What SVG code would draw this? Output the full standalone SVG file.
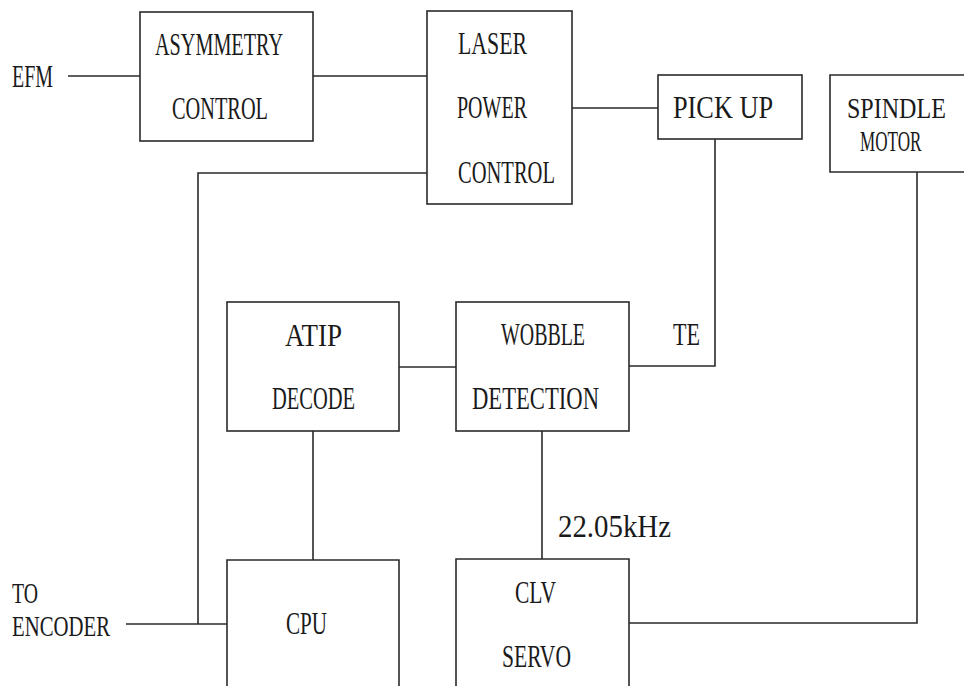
<svg xmlns="http://www.w3.org/2000/svg" width="964" height="686" viewBox="0 0 964 686">
<style>
.b{fill:#fff;stroke:#2a2a2a;stroke-width:1.6}
.c{fill:none;stroke:#2a2a2a;stroke-width:1.6}
text{font-family:"Liberation Serif","DejaVu Serif",serif;font-size:32px;fill:#1a1a1a}
.s{font-size:29px}
</style>
<rect width="964" height="686" fill="#fff"/>
<g id="connectors">
<path class="c" d="M68 76H140"/>
<path class="c" d="M313 76H427"/>
<path class="c" d="M572 108H658"/>
<path class="c" d="M427 173H198V624"/>
<path class="c" d="M126 624H227"/>
<path class="c" d="M399 367H456"/>
<path class="c" d="M629 366H715V139"/>
<path class="c" d="M313 431V560"/>
<path class="c" d="M542 431V559"/>
<path class="c" d="M629 623H917V172"/>
</g>
<g id="efm"><text x="12" y="87" textLength="41" lengthAdjust="spacingAndGlyphs">EFM</text></g>
<g id="asymmetry">
<rect class="b" x="140" y="12" width="173" height="129"/>
<text x="155" y="55" textLength="128" lengthAdjust="spacingAndGlyphs">ASYMMETRY</text>
<text x="172" y="119" textLength="96" lengthAdjust="spacingAndGlyphs">CONTROL</text>
</g>
<g id="laser">
<rect class="b" x="427" y="11" width="145" height="193"/>
<text x="458" y="54" textLength="69" lengthAdjust="spacingAndGlyphs">LASER</text>
<text x="457" y="118" textLength="70" lengthAdjust="spacingAndGlyphs">POWER</text>
<text x="458" y="183" textLength="97" lengthAdjust="spacingAndGlyphs">CONTROL</text>
</g>
<g id="pickup">
<rect class="b" x="658" y="75" width="144" height="64"/>
<text x="673" y="118" textLength="100" lengthAdjust="spacingAndGlyphs">PICK UP</text>
</g>
<g id="spindle">
<path class="b" d="M964 75H830V172H964"/>
<text class="s" transform="translate(847,118) scale(0.83,1)">SPINDLE</text>
<text class="s" transform="translate(860,151) scale(0.59,1)">MOTOR</text>
</g>
<g id="atip">
<rect class="b" x="227" y="302" width="172" height="129"/>
<text x="285" y="346" textLength="57" lengthAdjust="spacingAndGlyphs">ATIP</text>
<text x="272" y="409" textLength="83" lengthAdjust="spacingAndGlyphs">DECODE</text>
</g>
<g id="wobble">
<rect class="b" x="456" y="302" width="173" height="129"/>
<text x="501" y="345" textLength="84" lengthAdjust="spacingAndGlyphs">WOBBLE</text>
<text x="472" y="409" textLength="127" lengthAdjust="spacingAndGlyphs">DETECTION</text>
</g>
<g id="te"><text x="673" y="345" textLength="27" lengthAdjust="spacingAndGlyphs">TE</text></g>
<g id="freq"><text x="558" y="537" textLength="113" lengthAdjust="spacingAndGlyphs">22.05kHz</text></g>
<g id="cpu">
<path class="b" d="M227 686V560H399V686"/>
<text x="286" y="634" textLength="41" lengthAdjust="spacingAndGlyphs">CPU</text>
</g>
<g id="encoder">
<text class="s" x="12" y="603" textLength="26" lengthAdjust="spacingAndGlyphs">TO</text>
<text class="s" x="12" y="636" textLength="98" lengthAdjust="spacingAndGlyphs">ENCODER</text>
</g>
<g id="clv">
<path class="b" d="M456 686V559H629V686"/>
<text x="515" y="603" textLength="41" lengthAdjust="spacingAndGlyphs">CLV</text>
<text x="502" y="667" textLength="69" lengthAdjust="spacingAndGlyphs">SERVO</text>
</g>
</svg>
